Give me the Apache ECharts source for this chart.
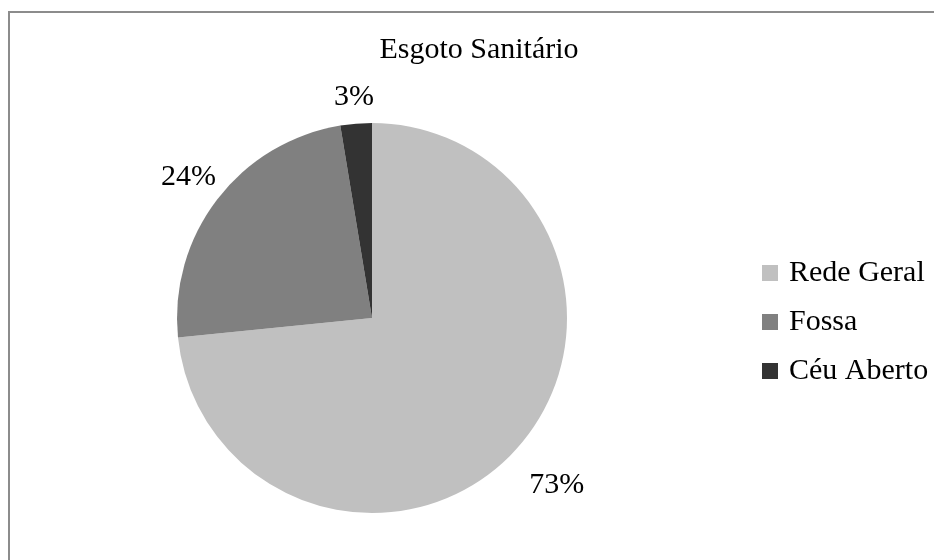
<!DOCTYPE html>
<html>
<head>
<meta charset="utf-8">
<script src="https://cdn.jsdelivr.net/npm/echarts@6/dist/echarts.min.js"></script>
<style>
  html, body { margin: 0; padding: 0; background: #fff; }
  #chart { width: 934px; height: 560px; }
</style>
</head>
<body>
<div id="chart"></div>
<script>
const FONT = '"Liberation Serif", "Times New Roman", serif';

const categories = ['Rede Geral', 'Fossa', 'Céu Aberto'];
const values = [73.4, 24.0, 2.6];
const colors = ['#c0c0c0', '#808080', '#333333'];
// how far each percent label sits beyond the rim
const labelOffsets = [54, 36, 27];

const chart = echarts.init(document.getElementById('chart'), null, { renderer: 'canvas' });

const option = {
  animation: false,
  backgroundColor: '#fff',
  title: {
    text: 'Esgoto Sanitário',
    left: 474,
    top: 30,
    textAlign: 'center',
    textStyle: { fontFamily: FONT, fontSize: 30, fontWeight: 'normal', color: '#000' }
  },
  legend: {
    orient: 'vertical',
    left: 757,
    top: 253,
    itemWidth: 16,
    itemHeight: 16,
    itemGap: 19,
    icon: 'rect',
    data: categories,
    textStyle: { fontFamily: FONT, fontSize: 30, color: '#000', padding: [0, 0, 0, 6] }
  },
  graphic: [{
    type: 'rect',
    shape: { x: 9, y: 12, width: 960, height: 600 },
    style: { fill: 'none', stroke: '#8c8c8c', lineWidth: 2 },
    silent: true
  }],
  series: [{
    type: 'pie',
    center: [372, 318],
    radius: [0, 195],
    startAngle: 90,
    clockwise: true,
    avoidLabelOverlap: false,
    data: categories.map((name, i) => ({
      name,
      value: values[i],
      itemStyle: { color: colors[i] },
      labelLine: { show: false, length: labelOffsets[i], length2: 0 }
    })),
    label: {
      show: true,
      position: 'outside',
      distanceToLabelLine: 0,
      fontFamily: FONT,
      fontSize: 30,
      color: '#000',
      formatter: p => Math.round(p.percent) + '%'
    },
    labelLayout: { align: 'center', verticalAlign: 'middle' },
    emphasis: { disabled: true }
  }]
};

chart.setOption(option);
</script>
</body>
</html>
